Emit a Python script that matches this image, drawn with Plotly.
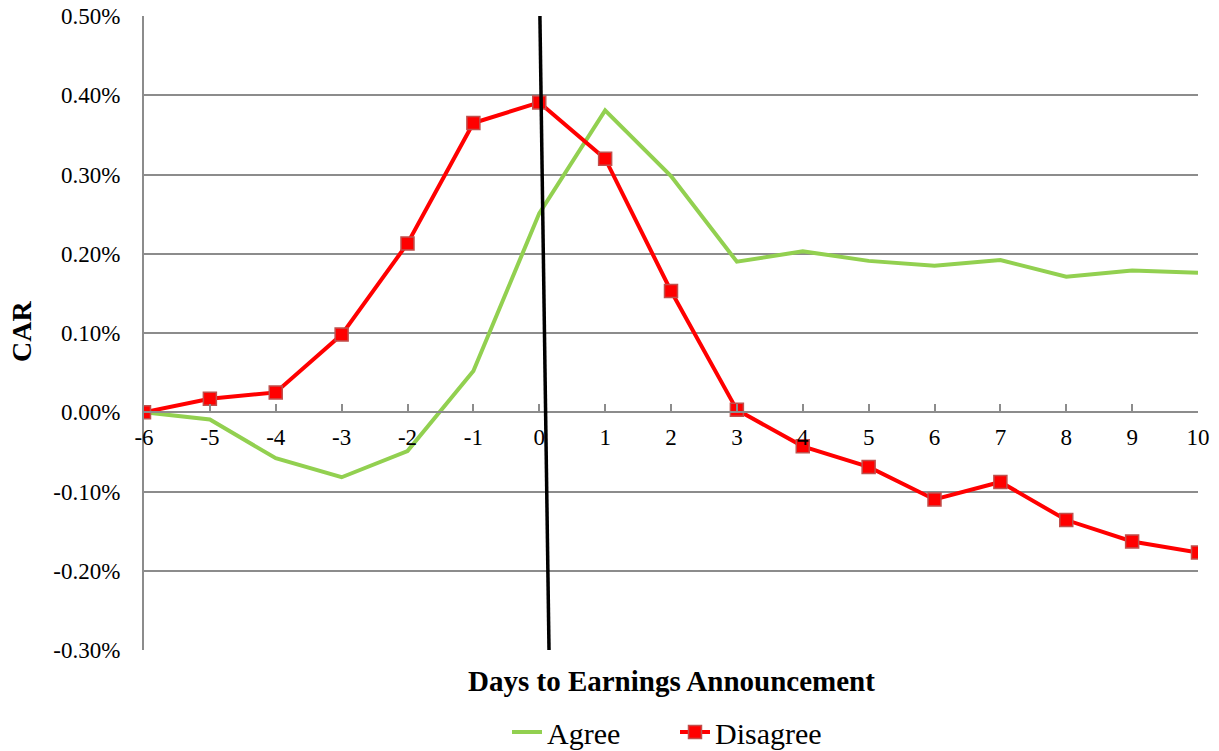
import plotly.graph_objects as go

# Event window: days relative to the earnings announcement
days = [-6, -5, -4, -3, -2, -1, 0, 1, 2, 3, 4, 5, 6, 7, 8, 9, 10]

# Cumulative abnormal returns (as fractions)
car_agree = [0.0, -0.000092, -0.00058, -0.00082, -0.00049, 0.00052, 0.00251, 0.00381,
             0.00298, 0.00190, 0.00203, 0.00191, 0.00185, 0.00192, 0.00171, 0.00179, 0.00176]
car_disagree = [0.0, 0.00017, 0.00025, 0.00098, 0.00213, 0.00365, 0.00391, 0.00320,
                0.00153, 0.00003, -0.00043, -0.00069, -0.00110, -0.00088, -0.00136, -0.00163, -0.00177]

y_ticks = [-0.003, -0.002, -0.001, 0.0, 0.001, 0.002, 0.003, 0.004, 0.005]
y_tick_text = [f"{v * 100:.2f}%".replace("\u2212", "-") for v in y_ticks]
x_tick_text = [str(d) for d in days]

FONT = "Liberation Serif"
GRID = "#8c8c8c"

fig = go.Figure()
fig.add_trace(go.Scatter(
    x=days, y=car_agree, name="Agree", mode="lines",
    line=dict(color="#92D050", width=4),
))
fig.add_trace(go.Scatter(
    x=days, y=car_disagree, name="Disagree", mode="lines+markers",
    line=dict(color="#FF0000", width=4),
    marker=dict(symbol="square", size=13, color="#FF0000",
                line=dict(color="#C0504D", width=1.5)),
))

# Announcement-day marker line
fig.add_shape(type="line", xref="x", yref="y",
              x0=0.01, y0=0.005, x1=0.15, y1=-0.0031,
              line=dict(color="black", width=3.5))

y_min, y_max = -0.003, 0.005
zero_pos = (0 - y_min) / (y_max - y_min)

fig.update_layout(
    width=1219, height=751,
    margin=dict(l=144, r=21, t=16, b=101, autoexpand=False),
    plot_bgcolor="white", paper_bgcolor="white",
    font=dict(family=FONT, size=23, color="black"),
    showlegend=True,
    legend=dict(orientation="h", x=0.3444, xanchor="left", y=-0.1293, yanchor="middle",
                font=dict(family=FONT, size=30), entrywidth=123, entrywidthmode="pixels",
                bgcolor="rgba(0,0,0,0)", borderwidth=0),
    xaxis=dict(
        range=[-6, 10], tickmode="array", tickvals=days, ticktext=x_tick_text,
        showgrid=False, zeroline=False, showline=True, linecolor=GRID, linewidth=2,
        anchor="free", position=zero_pos, automargin=False,
        ticks="inside", ticklen=7, tickcolor=GRID, tickwidth=1.5,
        ticklabelstandoff=4,
        tickfont=dict(family=FONT, size=23),
    ),
    yaxis=dict(
        range=[y_min, y_max], tickmode="array", tickvals=y_ticks, ticktext=y_tick_text,
        showgrid=True, gridcolor=GRID, gridwidth=1.5, automargin=False,
        zeroline=False, showline=True, linecolor=GRID, linewidth=2,
        ticks="", ticklabelstandoff=17,
        tickfont=dict(family=FONT, size=23),
    ),
    annotations=[
        dict(text="<b>Days to Earnings Announcement</b>", xref="paper", yref="paper",
             x=0.5, y=-0.0489, xanchor="center", yanchor="middle", showarrow=False,
             font=dict(family=FONT, size=29)),
        dict(text="<b>CAR</b>", xref="paper", yref="paper", textangle=-90,
             x=-0.1157, y=0.5016, xanchor="center", yanchor="middle", showarrow=False,
             font=dict(family=FONT, size=28)),
    ],
)

fig.write_html("out.html")
